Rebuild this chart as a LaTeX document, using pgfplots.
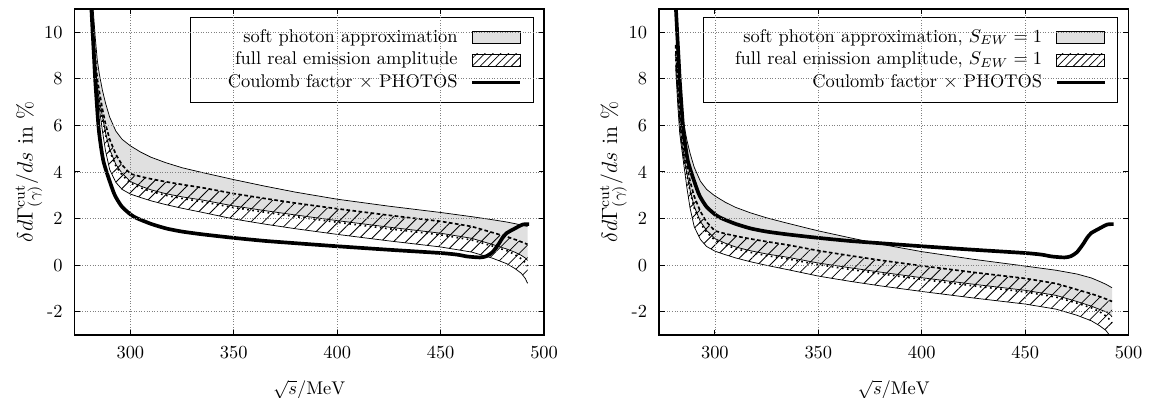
\documentclass[border=0pt]{standalone}
\usepackage{pgfplots}
\pgfplotsset{compat=1.18}
\usepackage{pgfplotstable}
\usepgfplotslibrary{fillbetween}
\usetikzlibrary{patterns.meta}

\pgfplotstableread{
x     us    cs    ls    uf    cf    lf
281   12.5  11.9  11.57 11.88 11.5  11.0
282   11.0  10.3  9.97  10.28 9.9   9.4
283   9.8   9.0   8.67  8.98  8.6   8.1
284   8.8   8.0   7.67  7.98  7.6   7.42
285   8.2   7.45  7.07  7.43  7.0   6.75
286.5 7.5   6.7   6.37  6.68  6.3   5.75
288   6.95  6.05  5.67  6.03  5.6   4.9
290   6.35  5.4   4.97  5.38  4.9   4.1
293   5.75  4.75  4.32  4.73  4.25  3.55
296   5.4   4.3   3.94  4.28  3.87  3.25
300   5.12  3.92  3.59  3.9   3.52  3.05
305   4.85  3.8   3.39  3.78  3.32  2.9
310   4.63  3.7   3.23  3.68  3.16  2.76
317   4.4   3.58  3.07  3.56  3.0   2.6
325   4.18  3.46  2.93  3.44  2.86  2.44
335   3.97  3.32  2.79  3.3   2.72  2.26
350   3.67  3.07  2.54  3.05  2.47  1.98
365   3.39  2.86  2.34  2.84  2.27  1.76
380   3.13  2.66  2.15  2.64  2.08  1.56
400   2.83  2.42  1.91  2.4   1.84  1.32
425   2.53  2.14  1.63  2.12  1.56  1.04
450   2.26  1.88  1.37  1.86  1.30  0.78
465   2.08  1.66  1.15  1.64  1.08  0.56
475   1.95  1.4   0.89  1.38  0.82  0.3
482   1.85  1.22  0.69  1.2   0.62  0.06
486   1.78  1.1   0.55  1.08  0.45  -0.15
489   1.72  1.0   0.42  0.98  0.27  -0.35
491   1.68  0.93  0.3   0.91  0.1   -0.58
492   1.66  0.89  0.2   0.87  -0.04 -0.78
}\bandL

\pgfplotstableread{
x     us    cs    ls    uf    cf    lf
281   10.35 9.45  9.12  9.43  9.05  8.55
282   8.85  7.85  7.52  7.83  7.45  6.95
283   7.65  6.55  6.22  6.53  6.15  5.65
284   6.65  5.55  5.22  5.53  5.15  4.97
285   6.05  5.0   4.62  4.98  4.55  4.3
286.5 5.35  4.25  3.92  4.23  3.85  3.3
288   4.8   3.6   3.22  3.58  3.15  2.45
290   4.2   2.95  2.52  2.93  2.45  1.65
293   3.6   2.3   1.87  2.28  1.8   1.1
296   3.25  1.85  1.49  1.83  1.42  0.8
300   2.97  1.47  1.14  1.45  1.07  0.6
305   2.7   1.35  0.94  1.33  0.87  0.45
310   2.48  1.25  0.78  1.23  0.71  0.31
317   2.25  1.13  0.62  1.11  0.55  0.15
325   2.03  1.01  0.48  0.99  0.41  -0.01
335   1.8   0.87  0.34  0.85  0.27  -0.19
350   1.47  0.62  0.09  0.6   0.02  -0.47
365   1.18  0.41  -0.11 0.39  -0.18 -0.69
380   0.9   0.21  -0.3  0.19  -0.37 -0.89
400   0.58  -0.03 -0.54 -0.05 -0.61 -1.13
425   0.25  -0.31 -0.82 -0.33 -0.89 -1.41
450   -0.04 -0.57 -1.08 -0.59 -1.15 -1.67
465   -0.22 -0.79 -1.3  -0.81 -1.37 -1.89
475   -0.38 -1.05 -1.56 -1.07 -1.63 -2.15
482   -0.55 -1.23 -1.76 -1.25 -1.83 -2.39
486   -0.7  -1.35 -1.9  -1.37 -2.0  -2.6
489   -0.82 -1.45 -2.0  -1.47 -2.18 -2.8
491   -0.92 -1.52 -2.12 -1.54 -2.35 -3.03
492   -0.97 -1.56 -2.22 -1.58 -2.49 -3.23
}\bandR

\pgfplotstableread{
x     c
280.5 12.5
281   11.3
282   9.6
282.5 8.8
283   7.95
284   6.65
284.5 6.05
285   5.6
286   4.95
287   4.45
288.5 4.0
290   3.6
292   3.1
293.4 2.85
296   2.5
300   2.18
303   2.02
310   1.77
317.5 1.57
325   1.44
335   1.32
350   1.17
365   1.04
380   0.94
400   0.81
425   0.66
450   0.52
458   0.45
463   0.37
469   0.33
472   0.38
475   0.55
478   0.9
480   1.18
482   1.38
485   1.53
489.6 1.74
492.8 1.76
}\coul

\pgfplotsset{
  boxlegend/.style={legend image code/.code={\draw[##1,draw=black,line width=0.5pt] (0pt,-3.3pt) rectangle (26pt,3.3pt);}},
  linelegend/.style={legend image code/.code={\draw[##1] (0pt,0pt) -- (26pt,0pt);}},
  myaxis/.style={
    scale only axis, width=255.2pt, height=177.3pt,
    xmin=273, xmax=500, ymin=-3, ymax=11,
    xtick={300,350,400,450,500}, ytick={-2,0,2,4,6,8,10},
    xticklabels={300,350,400,450,500},
    yticklabels={-2,0,2,4,6,8,10},
    tick pos=both, tick align=inside, major tick length=3pt,
    grid=major, major grid style={densely dotted, gray, line width=0.4pt},
    axis line style={line width=0.8pt},
    every tick/.style={black, line width=0.5pt},
    axis on top,
    xticklabel style={yshift=-2.5pt},
    yticklabel style={xshift=-3pt},
    xlabel={$\sqrt{s}/\mathrm{MeV}$},
    ylabel={$\delta d\Gamma^{\mathrm{cut}}_{(\gamma)}/ds$ in \%},
    xlabel style={at={(axis description cs:0.5,-0.168)}, anchor=center},
    ylabel style={at={(axis description cs:-0.097,0.5)}, anchor=center, font=\large},
    legend cell align=right,
    legend plot pos=right,
    legend style={at={(rel axis cs:1,1)}, anchor=north east, xshift=-5.7pt, yshift=-4.3pt,
      draw=black, line width=0.5pt, fill=white, inner xsep=6pt, inner ysep=6.2pt,
      column sep=7pt, row sep=2.4pt,
      nodes={inner sep=0pt, text height=7.4pt, text depth=2.4pt}},
  },
  edge/.style={black, line width=0.4pt, forget plot},
  hatch/.style={pattern={Lines[angle=45,distance=4.8pt,line width=0.45pt]}},
}

\begin{document}
\begin{tikzpicture}

% ---------------- left panel
\begin{axis}[myaxis, at={(40.5pt,34.2pt)}, anchor=south west]
\addlegendimage{boxlegend, fill=gray!24}
\addlegendentry{\makebox[139pt][r]{soft photon approximation}}
\addlegendimage{boxlegend, pattern={Lines[angle=45,distance=3pt,line width=0.4pt]}}
\addlegendentry{\makebox[139pt][r]{full real emission amplitude}}
\addlegendimage{linelegend, black, line width=2pt}
\addlegendentry{\makebox[139pt][r]{Coulomb factor $\times$ PHOTOS}}

\addplot[name path=usL, draw=none, forget plot] table[x=x,y=us]{\bandL};
\addplot[name path=lsL, draw=none, forget plot] table[x=x,y=ls]{\bandL};
\addplot[name path=ufL, draw=none, forget plot] table[x=x,y=uf]{\bandL};
\addplot[name path=lfL, draw=none, forget plot] table[x=x,y=lf]{\bandL};
\addplot[fill=gray!24, draw=none, forget plot] fill between[of=usL and lsL];
\addplot[hatch, draw=none, forget plot] fill between[of=ufL and lfL];
\addplot[edge] table[x=x,y=us]{\bandL};
\addplot[edge] table[x=x,y=ls]{\bandL};
\addplot[edge] table[x=x,y=lf]{\bandL};
\addplot[black, line width=0.9pt, dash pattern=on 2pt off 1.3pt, forget plot] table[x=x,y=cs]{\bandL};
\addplot[black, line width=0.9pt, dash pattern=on 0.9pt off 1.9pt, forget plot] table[x=x,y=cf]{\bandL};
\addplot[black, line width=2pt, smooth, tension=0.4, forget plot] table[x=x,y=c]{\coul};
\end{axis}

% ---------------- right panel
\begin{axis}[myaxis, at={(358.2pt,34.2pt)}, anchor=south west]
\addlegendimage{boxlegend, fill=gray!24}
\addlegendentry{\makebox[178pt][r]{soft photon approximation, $S_{EW}=1$}}
\addlegendimage{boxlegend, pattern={Lines[angle=45,distance=3pt,line width=0.4pt]}}
\addlegendentry{\makebox[178pt][r]{full real emission amplitude, $S_{EW}=1$}}
\addlegendimage{linelegend, black, line width=2pt}
\addlegendentry{\makebox[178pt][r]{Coulomb factor $\times$ PHOTOS}}

\addplot[name path=usR, draw=none, forget plot] table[x=x,y=us]{\bandR};
\addplot[name path=lsR, draw=none, forget plot] table[x=x,y=ls]{\bandR};
\addplot[name path=ufR, draw=none, forget plot] table[x=x,y=uf]{\bandR};
\addplot[name path=lfR, draw=none, forget plot] table[x=x,y=lf]{\bandR};
\addplot[fill=gray!24, draw=none, forget plot] fill between[of=usR and lsR];
\addplot[hatch, draw=none, forget plot] fill between[of=ufR and lfR];
\addplot[edge] table[x=x,y=us]{\bandR};
\addplot[edge] table[x=x,y=ls]{\bandR};
\addplot[edge] table[x=x,y=lf]{\bandR};
\addplot[black, line width=0.9pt, dash pattern=on 2pt off 1.3pt, forget plot] table[x=x,y=cs]{\bandR};
\addplot[black, line width=0.9pt, dash pattern=on 0.9pt off 1.9pt, forget plot] table[x=x,y=cf]{\bandR};
\addplot[black, line width=2pt, smooth, tension=0.4, forget plot] table[x=x,y=c]{\coul};
\end{axis}

\pgfresetboundingbox
\path[use as bounding box] (0,0) rectangle (624.5pt,216.3pt);
\end{tikzpicture}
\end{document}
